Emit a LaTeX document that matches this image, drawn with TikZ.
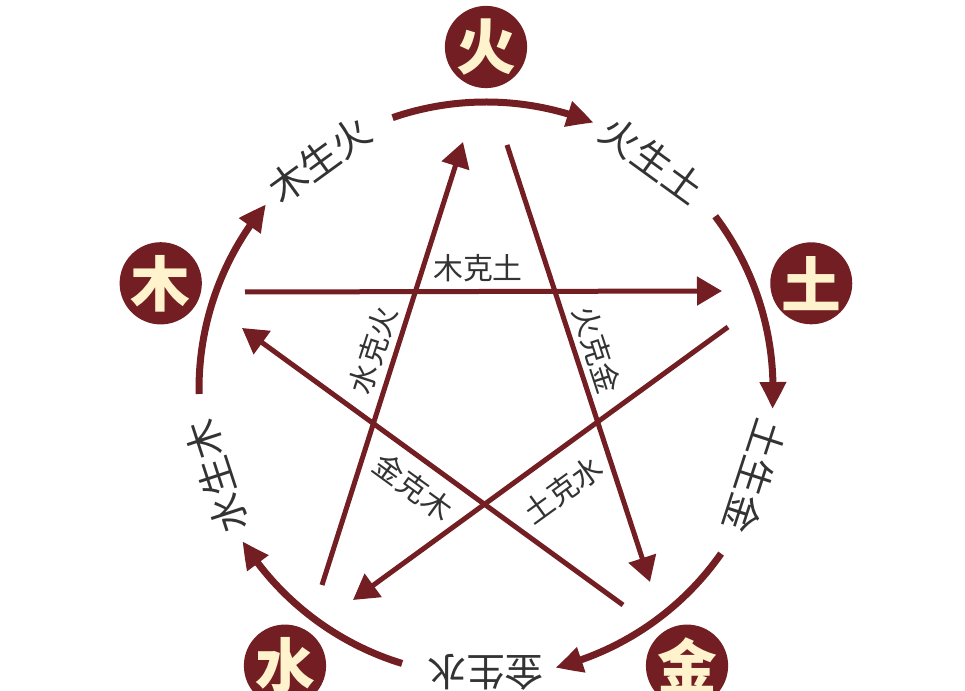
\documentclass[tikz,border=0pt]{standalone}
\usepackage{fontspec}
\usepackage{tikz}
\usetikzlibrary{arrows.meta,bending,calc}
\newfontfamily\cjk{Noto Sans CJK SC}
\definecolor{wxred}{RGB}{114,30,34}
\definecolor{wxcream}{RGB}{255,243,205}
\definecolor{wxtext}{RGB}{51,51,51}

\begin{document}
\begin{tikzpicture}[x=0.2mm, y=0.2mm,
    elem/.style={circle, fill=wxred, minimum size=16.4mm, inner sep=0pt,
        text=wxcream, font=\cjk\bfseries\fontsize{34}{34}\selectfont},
    sheng/.style={text=wxtext, font=\cjk\fontsize{22}{22}\selectfont},
    ke/.style={text=wxtext, font=\cjk\fontsize{17}{17}\selectfont},
    cyc/.style={wxred, line width=1.4mm, -{Triangle[length=5.4mm,width=5mm,bend]}},
    star/.style={wxred, line width=1mm, -{Triangle[length=5mm,width=5.6mm]}}]
        \def\R{287}
        \def\Rn{342}

        \useasboundingbox (0,0) rectangle (965,691);
        \clip (0,0) rectangle (965,691);
        \coordinate (c) at (486,302);

        % -- five element discs on the outer pentagon --
        \foreach \a/\nm/\ch in {90/huo/火, 18/tu/土, -54/jin/金, -126/shui/水, 162/mu/木}
            \node[elem] (\nm) at ([shift={(\a:\Rn)}]c) {\ch};

        % -- generating cycle: arcs clockwise, label in each gap --
        \foreach \a/\txt/\i in {126/木生火/1, 54/火生土/2, -18/土生金/3, -90/金生水/4, 198/水生木/5}{
            \node[sheng, rotate={\a-90}] (sheng\i) at ([shift={(\a:\R-4)}]c) {\txt};
            \draw[cyc] ([shift={({\a-17}:\R)}]c)
                arc[start angle={\a-17}, end angle={\a-58}, radius=\R];
        }

        % -- overcoming star: end points of the five arrows --
        \coordinate (mu-a)   at (245,399);
        \coordinate (tu-b)   at (722,400);
        \coordinate (huo-a)  at (507,546);
        \coordinate (jin-b)  at (650,109);
        \coordinate (tu-a)   at (728,364);
        \coordinate (shui-b) at (353,91);
        \coordinate (shui-a) at (322,106);
        \coordinate (huo-b)  at (463,549);
        \coordinate (jin-a)  at (623,86);
        \coordinate (mu-b)   at (242,363);

        \draw[star] (mu-a) -- (tu-b);
        \draw[star] (huo-a) -- (jin-b);
        \draw[star] (tu-a) -- (shui-b);
        \draw[star] (shui-a) -- (huo-b);
        \draw[star] (jin-a) -- (mu-b);

        % -- labels along the star lines --
        \node[ke] (muketu)   at (478,423) {木克土};
        \node[ke, rotate=72]  (shuikehuo) at (373,341) {水克火};
        \node[ke, rotate=-72] (huokejin)  at (597,341) {火克金};
        \node[ke, rotate=-36] (jinkemu)   at (413,204) {金克木};
        \node[ke, rotate=36]  (tukeshui)  at (563,201) {土克水};

    \end{tikzpicture}
\end{document}
